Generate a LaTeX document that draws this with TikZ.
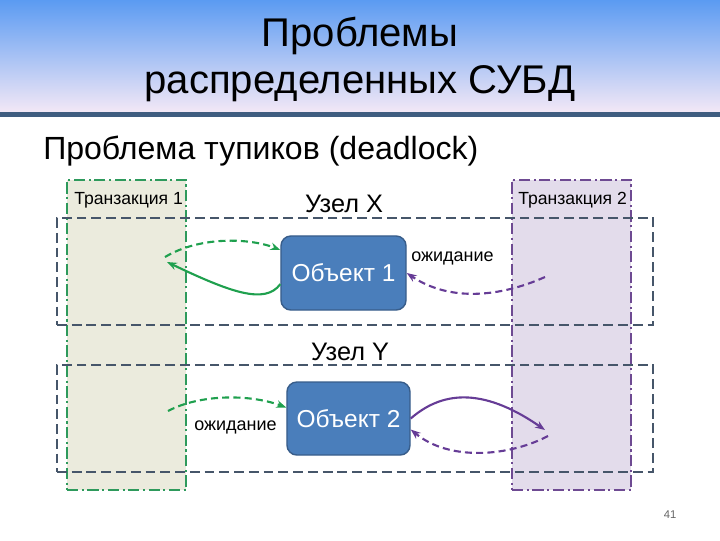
\documentclass[tikz,border=0pt]{standalone}
\usepackage{fontspec}
\setmainfont{Liberation Sans}
\usetikzlibrary{arrows.meta, positioning, calc}
\definecolor{ttTop}{HTML}{5B9BF2}
\definecolor{ttBot}{HTML}{F3E8F6}
\definecolor{ttLine}{HTML}{3F5D80}
\definecolor{trGreen}{HTML}{2E9A5C}
\definecolor{trGreenBg}{HTML}{EBEBDD}
\definecolor{trPurple}{HTML}{6E4A92}
\definecolor{trPurpleBg}{HTML}{E3DCEB}
\definecolor{zoneLine}{HTML}{46566A}
\definecolor{objFill}{HTML}{4A7EBB}
\definecolor{objDraw}{HTML}{385D8A}
\definecolor{arGreen}{HTML}{1FA04E}
\definecolor{arPurple}{HTML}{663C96}
\tikzset{
  trbox/.style={draw, line width=1.6pt, dash pattern=on 8pt off 2.5pt on 1.5pt off 2.5pt,
    minimum width=2.975cm, minimum height=7.75cm, inner sep=0pt},
  trone/.style={trbox, fill=trGreenBg, draw=trGreen},
  trtwo/.style={trbox, fill=trPurpleBg, draw=trPurple},
  zone/.style={draw=zoneLine, line width=1.5pt, dash pattern=on 7pt off 3.5pt,
    minimum width=14.9cm, minimum height=2.675cm, inner sep=0pt},
  objbox/.style={draw=objDraw, fill=objFill, line width=1pt, rounded corners=7pt,
    text=white, font=\fontsize{17.4}{20}\selectfont, inner sep=0pt},
  trlabel/.style={font=\fontsize{12.5}{14}\selectfont, anchor=west, inner sep=0pt},
  zonelabel/.style={font=\fontsize{18}{21}\selectfont, inner sep=0pt},
  waitlabel/.style={font=\fontsize{12.8}{15}\selectfont, inner sep=0pt},
  lockok/.style={-{Stealth[length=2.5mm]}, line width=1.5pt},
  lockwait/.style={lockok, dash pattern=on 5pt off 3pt}
}
\begin{document}
\begin{tikzpicture}[x=0.025cm, y=-0.025cm]
  \useasboundingbox (0,0) rectangle (720,540);
  % title band
  \shade[top color=ttTop, bottom color=ttBot] (0,0) rectangle (720,112);
  \fill[ttLine] (0,112) rectangle (720,117);
  \node[font=\fontsize{28.5}{34}\selectfont] (title1) at (360,36) {Проблемы};
  \node[font=\fontsize{28.5}{34}\selectfont] (title2) at (360,84) {распределенных СУБД};
  \node[font=\fontsize{22.8}{27}\selectfont, anchor=west, inner sep=0pt] (sub) at (43,151) {Проблема тупиков (deadlock)};

  % transactions and sites
  \node[trone] (tr1) at (126.5,335) {};
  \node[trtwo] (tr2) at (571.5,335) {};
  \node[zone] (siteX) at (355,271.5) {};
  \node[zone] (siteY) at (355,418.5) {};
  \node[trlabel] (tr1lbl) at (74,200) {Транзакция 1};
  \node[trlabel] (tr2lbl) at (518,200) {Транзакция 2};
  \node[zonelabel] (siteXlbl) at (344,204) {Узел X};
  \node[zonelabel] (siteYlbl) at (350,352) {Узел Y};

  % objects
  \node[objbox, minimum width=3.125cm, minimum height=1.85cm] (obj1) at (343.5,273) {Объект 1};
  \node[objbox, minimum width=3.075cm, minimum height=1.825cm] (obj2) at (348.5,418.5) {Объект 2};
  \node[waitlabel, anchor=west] (wait1) at (411,258) {ожидание};
  \node[waitlabel, anchor=east] (wait2) at (277,427) {ожидание};

  \coordinate (t1a) at (165,257);
  \coordinate (t1b) at (167,262);
  \coordinate (t2a) at (545,277);
  \coordinate (t1c) at (168,411);
  \coordinate (t2b) at (545,430);
  \coordinate (t2c) at (548,436);

  % site X
  \draw[lockwait, arGreen] (t1a) .. controls (200,236) and (250,238) .. (obj1.160);
  \draw[lockok, arGreen] (obj1.190) .. controls (265,305) and (230,292) .. (t1b);
  \draw[lockwait, arPurple] (t2a) .. controls (500,297) and (450,302) .. (obj1.east);
  % site Y
  \draw[lockwait, arGreen] (t1c) .. controls (200,394) and (250,394) .. (obj2.170);
  \draw[lockok, arPurple] (obj2.east) .. controls (440,393) and (480,385) .. (t2b);
  \draw[lockwait, arPurple] (t2c) .. controls (510,456) and (450,462) .. (obj2.-10);

  \node[font=\fontsize{8}{10}\selectfont, text=black!60] (page) at (670,515) {41};
\end{tikzpicture}
\end{document}
